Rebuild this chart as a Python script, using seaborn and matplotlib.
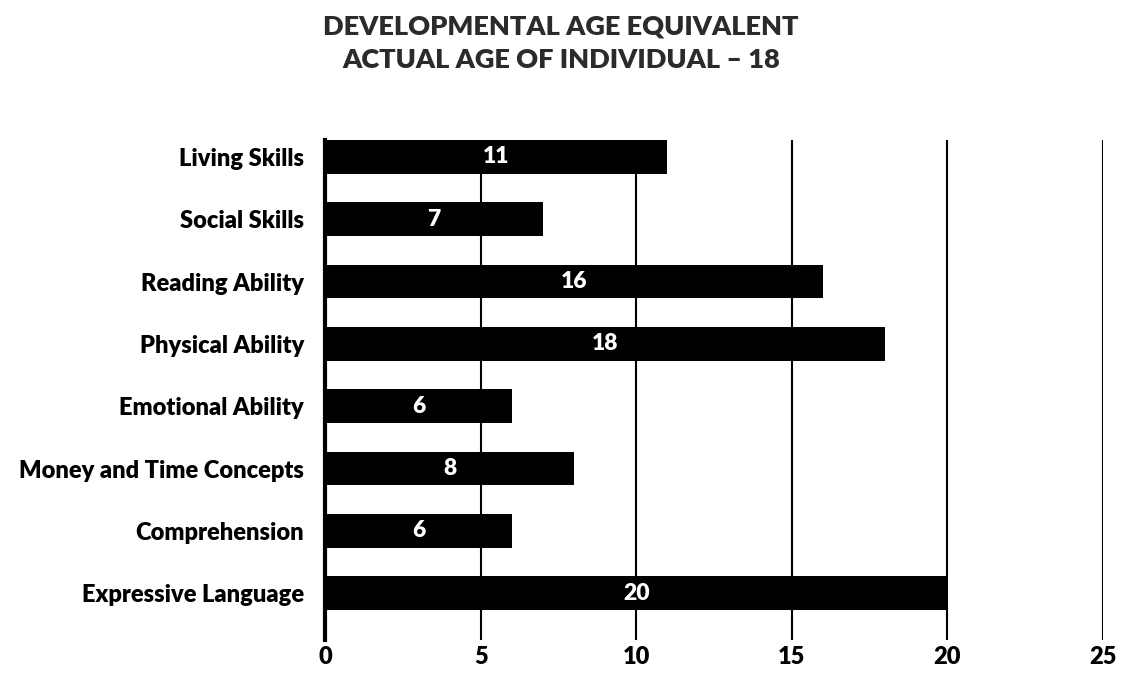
import seaborn as sns
import matplotlib.pyplot as plt
import pandas as pd

skills = ['Living Skills', 'Social Skills', 'Reading Ability', 'Physical Ability',
          'Emotional Ability', 'Money and Time Concepts', 'Comprehension', 'Expressive Language']
ages = [11, 7, 16, 18, 6, 8, 6, 20]
x_ticks = [0, 5, 10, 15, 20, 25]

df = pd.DataFrame({'skill': skills, 'age': ages})

sns.set_theme(style="white")
plt.rcParams['font.family'] = ['Lato', 'DejaVu Sans']

fig = plt.figure(figsize=(11.22, 6.77), dpi=100)
ax = fig.add_axes([0.2897, 0.0547, 0.6934, 0.7385])

sns.barplot(data=df, x='age', y='skill', color='black', width=0.54,
            saturation=1, linewidth=0, ax=ax, zorder=3)

for p, v in zip(ax.patches, ages):
    ax.annotate(f'{v}', (p.get_width() / 2, p.get_y() + p.get_height() / 2),
                ha='center', va='center', color='white', fontsize=16.5,
                fontweight='heavy', zorder=4)

ax.set_xlim(0, 25)
ax.set_ylim(7.75, -0.27)
ax.set_xticks(x_ticks)
for x in x_ticks[1:]:
    ax.axvline(x, color='black', lw=1.5, zorder=1)

for s in ['top', 'right', 'bottom']:
    ax.spines[s].set_visible(False)
ax.spines['left'].set_color('black')
ax.spines['left'].set_linewidth(3)
ax.tick_params(axis='both', length=0, labelsize=17)
ax.tick_params(axis='y', pad=15)
ax.tick_params(axis='x', pad=4)
for lbl in ax.get_xticklabels() + ax.get_yticklabels():
    lbl.set_fontweight('heavy')
    lbl.set_color('black')
ax.set_xlabel('')
ax.set_ylabel('')

fig.suptitle('DEVELOPMENTAL AGE EQUIVALENT\nACTUAL AGE OF INDIVIDUAL – 18',
             x=0.5, y=0.978, fontsize=19.5, fontweight='heavy', color='#2b2b2b',
             linespacing=1.45)

plt.savefig('out.png', dpi=100)
